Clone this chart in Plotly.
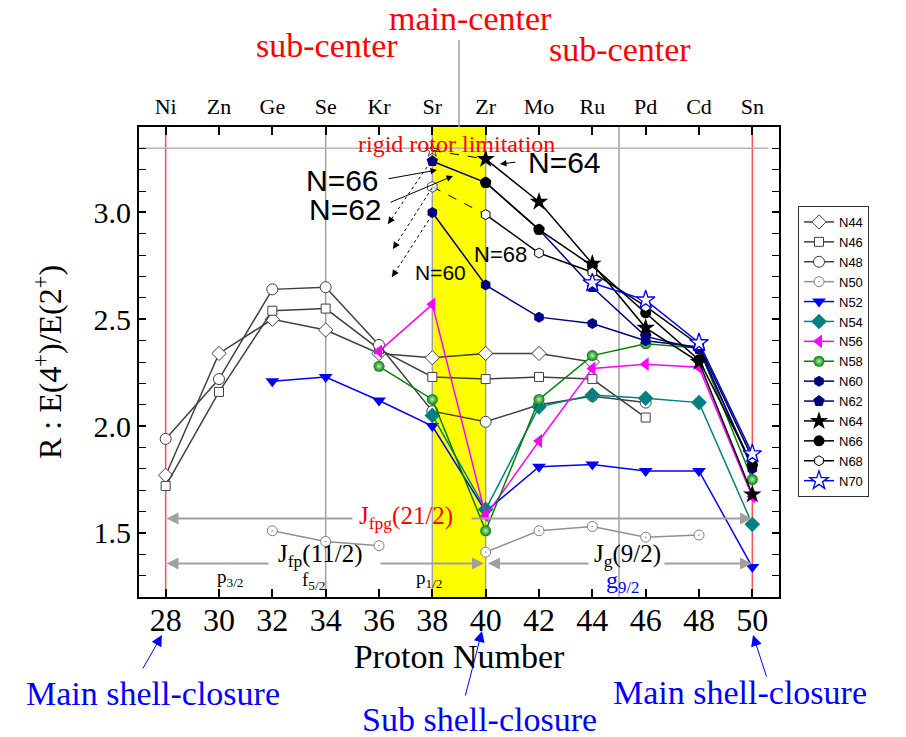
import plotly.graph_objects as go

# ---------------- data ----------------
elements = ["Ni", "Zn", "Ge", "Se", "Kr", "Sr", "Zr", "Mo", "Ru", "Pd", "Cd", "Sn"]
proton_ticks = [28, 30, 32, 34, 36, 38, 40, 42, 44, 46, 48, 50]
y_ticks = [1.5, 2.0, 2.5, 3.0]

Z44 = [28, 30, 32, 34, 36, 38, 40, 42, 44]
R44 = [1.77, 2.34, 2.50, 2.45, 2.34, 2.32, 2.34, 2.34, 2.30]
Z46 = [28, 30, 32, 34, 36, 38, 40, 42, 44, 46]
R46 = [1.72, 2.16, 2.54, 2.55, 2.36, 2.23, 2.22, 2.23, 2.22, 2.04]
Z48 = [28, 30, 32, 34, 36, 38, 40, 42, 44, 46]
R48 = [1.94, 2.22, 2.64, 2.65, 2.38, 2.07, 2.02, 2.10, 2.14, 2.11]
Z50 = [32, 34, 36, 38, 40, 42, 44, 46, 48]
R50 = [1.51, 1.46, 1.44, None, 1.41, 1.51, 1.53, 1.48, 1.49]
Z52 = [32, 34, 36, 38, 40, 42, 44, 46, 48, 50]
R52 = [2.21, 2.23, 2.12, 2.00, 1.60, 1.81, 1.82, 1.79, 1.79, 1.34]
Z54 = [38, 40, 42, 44, 46, 48, 50]
R54 = [2.05, 1.61, 2.09, 2.145, 2.13, 2.11, 1.54]
Z56 = [36, 38, 40, 42, 44, 46, 48, 50]
R56 = [2.35, 2.57, 1.58, 1.93, 2.27, 2.29, 2.275, 1.67]
Z58 = [36, 38, 40, 42, 44, 46, 48, 50]
R58 = [2.28, 2.125, 1.51, 2.125, 2.33, 2.385, 2.365, 1.75]
Z60 = [38, 40, 42, 44, 46, 48, 50]
R60 = [3.00, 2.66, 2.51, 2.48, 2.40, 2.37, 1.80]
Z62 = [38, 40, 42, 44, 46, 48, 50]
R62 = [3.24, 3.14, 2.92, 2.65, 2.42, 2.36, 1.81]
Z64 = [38, 40, 42, 44, 46, 48, 50]          # first segment (38-40) dashed
R64 = [3.29, 3.25, 3.05, 2.76, 2.46, 2.30, 1.68]
Z66 = [40, 42, 44, 46, 48, 50]
R66 = [3.14, 2.92, 2.75, 2.53, 2.31, 1.82]
Z68 = [38, 40, 42, 44, 46, 48, 50]          # first segment (38-40) dashed
R68 = [3.12, 2.99, 2.81, 2.72, 2.56, 2.38, 1.85]
Z70 = [44, 46, 48, 50]
R70 = [2.67, 2.59, 2.39, 1.87]

rigid_rotor = 3.30
yellow_band = (38, 40)
gray_lines = [34, 38, 40, 45]
red_lines = [28, 50]

# ---------------- layout geometry ----------------
W, H = 906, 737
ML, MR, MT, MB = 139, 127, 127, 140
PW, PH = W - ML - MR, H - MT - MB
XR = (27, 51)
YR = (1.2, 3.4)
SERIF = "Liberation Serif"
SANS = "Liberation Sans"


def PP(px, py):
    """pixel position -> paper coordinates"""
    return (px - ML) / PW, (H - MB - py) / PH


def P(px, py):
    """pixel position -> data coordinates (inside plot only)"""
    x = XR[0] + (px - ML) * (XR[1] - XR[0]) / PW
    y = YR[1] - (py - MT) * (YR[1] - YR[0]) / PH
    return x, y


DGRAY = "#404040"
series = [
    ("N44", Z44, R44, DGRAY, dict(symbol="diamond", size=11, color="white", line=dict(color=DGRAY, width=1))),
    ("N46", Z46, R46, DGRAY, dict(symbol="square", size=9, color="white", line=dict(color=DGRAY, width=1))),
    ("N48", Z48, R48, DGRAY, dict(symbol="circle", size=11, color="white", line=dict(color=DGRAY, width=1))),
    ("N50", Z50, R50, "#909090", dict(symbol="circle-dot", size=10, color="white", line=dict(color="#808080", width=1))),
    ("N52", Z52, R52, "#0000FF", dict(symbol="triangle-down", size=12, color="#0000FF", line=dict(width=0))),
    ("N54", Z54, R54, "#008080", dict(symbol="diamond", size=12, color="#008080", line=dict(width=0))),
    ("N56", Z56, R56, "#FF00FF", dict(symbol="triangle-left", size=12, color="#FF00FF", line=dict(width=0))),
    ("N58", Z58, R58, "#008000", dict(symbol="circle", size=11, color="#008000", line=dict(width=0),
                                       gradient=dict(type="radial", color="#b8f0b8"))),
    ("N60", Z60, R60, "#000080", dict(symbol="hexagon", size=11, color="#000080", line=dict(width=0))),
    ("N62", Z62, R62, "#000080", dict(symbol="pentagon", size=12, color="#000080", line=dict(width=0))),
    ("N64", Z64[1:], R64[1:], "black", dict(symbol="star", size=14, color="black", line=dict(width=0))),
    ("N66", Z66, R66, "black", dict(symbol="circle", size=11, color="black", line=dict(width=0))),
    ("N68", Z68[1:], R68[1:], "black", dict(symbol="hexagon", size=10, color="white", line=dict(color="black", width=1))),
    ("N70", Z70, R70, "#0000FF", dict(symbol="star", size=14, color="white", line=dict(color="#0000FF", width=1.3))),
]

fig = go.Figure()

# dashed extrapolated segments (38 -> 40)
fig.add_trace(go.Scatter(x=Z64[:2], y=R64[:2], mode="lines+markers", showlegend=False, hoverinfo="skip",
                         line=dict(color="black", width=1, dash="dash"),
                         marker=dict(symbol="star-open", size=[10, 0], color="black")))
fig.add_trace(go.Scatter(x=Z68[:2], y=R68[:2], mode="lines+markers", showlegend=False, hoverinfo="skip",
                         line=dict(color="black", width=1, dash="dash"),
                         marker=dict(symbol="hexagon", size=[11, 0], color="white",
                                     line=dict(color="#0000CC", width=1))))

for name, zs, rs, lc, mk in series:
    fig.add_trace(go.Scatter(x=zs, y=rs, name=name, mode="lines+markers",
                             line=dict(color=lc, width=1.5), marker=mk, connectgaps=False))

# invisible trace so the top (element) axis is drawn
fig.add_trace(go.Scatter(x=proton_ticks, y=[None] * len(proton_ticks), xaxis="x2", showlegend=False,
                         hoverinfo="skip", mode="markers"))

# ---------------- shapes ----------------
shapes = []
shapes.append(dict(type="rect", xref="x", yref="paper", x0=yellow_band[0], x1=yellow_band[1], y0=0, y1=1,
                   fillcolor="#FFFF00", line=dict(width=0), layer="below"))
for gx in gray_lines:
    shapes.append(dict(type="line", xref="x", yref="paper", x0=gx, x1=gx, y0=0, y1=1,
                       line=dict(color="#A0A0A0", width=1.5), layer="below"))
for rx in red_lines:
    shapes.append(dict(type="line", xref="x", yref="paper", x0=rx, x1=rx, y0=0, y1=1,
                       line=dict(color="#FF5050", width=1.5), layer="below"))
shapes.append(dict(type="line", xref="x", yref="y", x0=XR[0], x1=50.6, y0=rigid_rotor, y1=rigid_rotor,
                   line=dict(color="#B4B4B4", width=1.5), layer="below"))
# main-center divider above plot
shapes.append(dict(type="line", xref="x", yref="paper", x0=39, x1=39, y0=1.0, y1=1 + (MT - 40) / PH,
                   line=dict(color="#A0A0A0", width=1.5)))

annotations = []


def text(px, py, s, size, color="black", family=SERIF):
    x, y = PP(px, py)
    annotations.append(dict(x=x, y=y, xref="paper", yref="paper", text=s, showarrow=False,
                            font=dict(size=size, color=color, family=family),
                            xanchor="center", yanchor="middle"))


def arrow(tx, ty, hx, hy, color, width=1, size=1.5, head=2):
    x, y = PP(hx, hy)
    annotations.append(dict(x=x, y=y, ax=tx - hx, ay=ty - hy, xref="paper", yref="paper",
                            axref="pixel", ayref="pixel", text="",
                            showarrow=True, arrowhead=head, arrowsize=size, arrowwidth=width,
                            arrowcolor=color))


def dashed_arrow(tx, ty, hx, hy):
    x0, y0 = P(tx, ty)
    x1, y1 = P(hx, hy)
    shapes.append(dict(type="line", xref="x", yref="y", x0=x0, y0=y0, x1=x1, y1=y1,
                       line=dict(color="black", width=1, dash="dot")))
    dx, dy = hx - tx, hy - ty
    n = (dx * dx + dy * dy) ** 0.5
    arrow(hx - dx / n * 6, hy - dy / n * 6, hx, hy, "black", 1, 1.4)


# top texts
text(470, 18, "main-center", 34, "red")
text(327, 46, "sub-center", 34, "red")
text(620, 49, "sub-center", 34, "red")
text(456, 144, "rigid rotor limitation", 24, "red")

# N labels
text(342, 180, "N=66", 30, family=SANS)
text(345, 209, "N=62", 30, family=SANS)
text(440, 272, "N=60", 21, family=SANS)
text(500, 255, "N=68", 22, family=SANS)
text(564, 162, "N=64", 30, family=SANS)
arrow(387, 179, 437, 170, "black", 1, 1.3)
arrow(389, 203, 453, 176, "black", 1, 1.3)
arrow(517, 162, 500, 164, "black", 1, 1.3)
dashed_arrow(427, 167, 388, 224)
dashed_arrow(432, 188, 393, 249)
dashed_arrow(432, 215, 392, 277)

# J / orbital annotations
text(406, 517, "J<sub>fpg</sub>(21/2)", 25, "red")
arrow(354, 518.5, 166.5, 518.5, "#A0A0A0", 2, 1.2)
arrow(470, 518.5, 752, 518.5, "#A0A0A0", 2, 1.2)
text(320, 555, "J<sub>fp</sub>(11/2)", 25)
arrow(270, 563.5, 166.5, 563.5, "#A0A0A0", 2, 1.2)
arrow(379, 563.5, 484, 563.5, "#A0A0A0", 2, 1.2)
text(627, 555, "J<sub>g</sub>(9/2)", 25)
arrow(590, 563.5, 488, 563.5, "#A0A0A0", 2, 1.2)
arrow(663, 563.5, 752, 563.5, "#A0A0A0", 2, 1.2)
text(230, 578, "p<sub>3/2</sub>", 19)
text(313, 581, "f<sub>5/2</sub>", 19)
text(429, 579, "p<sub>1/2</sub>", 19)
text(622, 582, "g<sub>9/2</sub>", 24, "#0000FF")

# shell closure notes
text(153, 693, "Main shell-closure", 34, "#0000FF")
text(479, 719, "Sub shell-closure", 34, "#0000FF")
text(740, 692, "Main shell-closure", 34, "#0000FF")
arrow(142, 670, 162, 635, "#0000FF", 1, 2.2)
arrow(465, 697, 482, 631, "#0000FF", 1, 2.2)
arrow(767, 678, 753, 635, "#0000FF", 1, 2.2)

fig.update_layout(
    width=W, height=H,
    margin=dict(l=ML, r=MR, t=MT, b=MB, pad=0),
    paper_bgcolor="white", plot_bgcolor="white",
    showlegend=True,
    legend=dict(x=(798 - ML) / PW, y=(H - MB - 206) / PH, xanchor="left", yanchor="top",
                bgcolor="white", bordercolor="#333333", borderwidth=1,
                font=dict(family=SANS, size=13, color="black"), tracegroupgap=0),
    xaxis=dict(range=list(XR), tickvals=proton_ticks, ticks="inside", ticklen=8, tickwidth=1.5,
               tickcolor="black", showline=True, linecolor="black", linewidth=2, mirror="ticks",
               showgrid=False, zeroline=False, ticklabelstandoff=-6,
               tickfont=dict(family=SERIF, size=32, color="black"),
               title=dict(text="Proton Number", font=dict(family=SERIF, size=34, color="black"), standoff=2)),
    xaxis2=dict(range=list(XR), overlaying="x", side="top", tickvals=proton_ticks, ticktext=elements,
                ticks="", showline=False, showgrid=False, zeroline=False, ticklabelstandoff=8,
                tickfont=dict(family=SERIF, size=22, color="black")),
    yaxis=dict(range=list(YR), tickvals=y_ticks, tickformat=".1f", ticks="inside", ticklen=7, tickwidth=1.5,
               tickcolor="black", showline=True, linecolor="black", linewidth=2, mirror="ticks",
               showgrid=False, zeroline=False,
               minor=dict(dtick=0.1, tick0=1.2, ticks="inside", ticklen=7, tickwidth=1.2, tickcolor="black"),
               tickfont=dict(family=SERIF, size=30, color="black"),
               title=dict(text="R : E(4<sup>+</sup>)/E(2<sup>+</sup>)", font=dict(family=SERIF, size=32, color="black"),
                          standoff=22)),
    shapes=shapes,
    annotations=annotations,
)

fig.write_html("out.html")
